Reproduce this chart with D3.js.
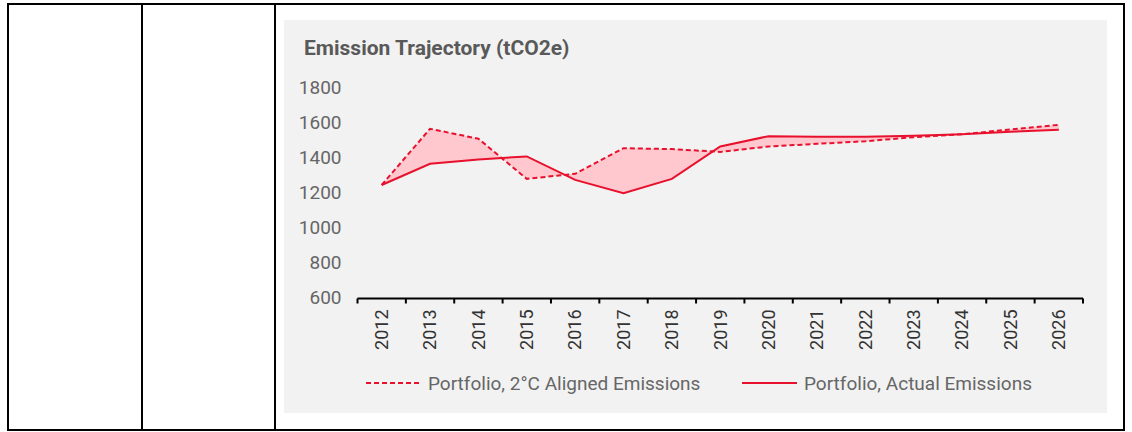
<!DOCTYPE html>
<html>
<head>
<meta charset="utf-8">
<script src="https://cdn.jsdelivr.net/npm/d3@7"></script>
<style>
  body { margin: 0; background: #fff; }
  svg { display: block; font-family: Roboto, "Noto Sans", sans-serif; }
</style>
</head>
<body>
<div id="chart"></div>
<script>
// chart data
var years = ['2012', '2013', '2014', '2015', '2016', '2017', '2018', '2019',
             '2020', '2021', '2022', '2023', '2024', '2025', '2026'];
var aligned = [1243, 1564, 1507, 1278, 1307, 1453, 1448, 1432,
               1463, 1478, 1493, 1516, 1533, 1560, 1587];
var actual = [1243, 1364, 1389, 1406, 1272, 1196, 1278, 1463,
              1522, 1518, 1518, 1524, 1533, 1547, 1558];
var yTicks = [600, 800, 1000, 1200, 1400, 1600, 1800];
var legendLabels = ['Portfolio, 2°C Aligned Emissions', 'Portfolio, Actual Emissions'];

var width = 1132, height = 432;
var red = '#e8112d';

var svg = d3.select('#chart')
      .append('svg')
      .attr('width', width)
      .attr('height', height);

// table cell borders around the chart
var border = svg.append('g')
      .attr('stroke', '#000')
      .attr('stroke-width', 2)
      .attr('fill', 'none');
border.append('rect').attr('x', 8).attr('y', 4).attr('width', 1116).attr('height', 426);
border.append('line').attr('x1', 142).attr('x2', 142).attr('y1', 4).attr('y2', 430);
border.append('line').attr('x1', 275).attr('x2', 275).attr('y1', 4).attr('y2', 430);

// grey chart panel
svg.append('rect')
  .attr('x', 284).attr('y', 20)
  .attr('width', 823).attr('height', 393)
  .attr('fill', '#f2f2f2');

svg.append('text')
  .attr('x', 304)
  .attr('y', 55)
  .attr('fill', '#595959')
  .attr('font-size', 21)
  .attr('font-weight', 'bold')
  .text('Emission Trajectory (tCO2e)');

var xScale = d3.scaleBand()
      .domain(years)
      .range([357.5, 1083]);

var yScale = d3.scaleLinear()
      .domain([600, 1800])
      .range([297.5, 87.5]);

function cx(d, i) { return xScale(years[i]) + xScale.bandwidth() / 2; }

// shaded gap between the two series
var area = d3.area()
      .x(function(d, i) { return cx(d, i); })
      .y0(function(d, i) { return yScale(actual[i]); })
      .y1(function(d) { return yScale(d); });

svg.append('path')
  .datum(aligned)
  .attr('d', area)
  .attr('fill', '#ffc7ce');

var line = d3.line()
      .x(function(d, i) { return cx(d, i); })
      .y(function(d) { return yScale(d); });

svg.append('path')
  .datum(aligned)
  .attr('d', line)
  .attr('fill', 'none')
  .attr('stroke', red)
  .attr('stroke-width', 2)
  .attr('stroke-dasharray', '5,3');

svg.append('path')
  .datum(actual)
  .attr('d', line)
  .attr('fill', 'none')
  .attr('stroke', red)
  .attr('stroke-width', 2);

// y axis: labels only
var yAxis = d3.axisLeft(yScale)
      .tickValues(yTicks)
      .tickFormat(d3.format('d'))
      .tickSize(0)
      .tickPadding(0);

var gy = svg.append('g')
      .attr('transform', 'translate(341.5,0)')
      .call(yAxis);
gy.select('.domain').remove();
gy.selectAll('text')
  .attr('fill', '#666')
  .attr('font-size', 19)
  .attr('font-family', 'Roboto');

// x axis: line and ticks between categories, rotated labels
var xAxis = d3.axisBottom(xScale)
      .tickSize(0)
      .tickPadding(0);

var gx = svg.append('g')
      .attr('transform', 'translate(0,298.5)')
      .call(xAxis);
gx.select('.domain').remove();
gx.selectAll('text')
  .attr('transform', 'rotate(-90)')
  .attr('text-anchor', 'end')
  .attr('x', -11)
  .attr('y', 0)
  .attr('dy', '0.35em')
  .attr('fill', '#333')
  .attr('font-size', 18)
  .attr('font-family', 'Roboto');

gx.append('line')
  .attr('x1', xScale.range()[0])
  .attr('x2', xScale.range()[1])
  .attr('stroke', '#000')
  .attr('stroke-width', 2);

gx.selectAll('.edge')
  .data(years.concat(['end']))
  .enter()
  .append('line')
  .attr('class', 'edge')
  .attr('x1', function(d) { return d === 'end' ? xScale.range()[1] : xScale(d); })
  .attr('x2', function(d) { return d === 'end' ? xScale.range()[1] : xScale(d); })
  .attr('y1', 0)
  .attr('y2', 5)
  .attr('stroke', '#000')
  .attr('stroke-width', 2);

// legend
var legendX = [366, 742];
var legend = svg.selectAll('.legend')
      .data(legendLabels)
      .enter()
      .append('g')
      .attr('class', 'legend')
      .attr('transform', function(d, i) { return 'translate(' + legendX[i] + ',383)'; });

legend.append('line')
  .attr('x1', 0)
  .attr('x2', 55)
  .attr('stroke', red)
  .attr('stroke-width', 2)
  .attr('stroke-dasharray', function(d, i) { return i === 0 ? '5,3' : null; });

legend.append('text')
  .attr('x', 62)
  .attr('dy', '0.35em')
  .attr('fill', '#666')
  .attr('font-size', 19)
  .text(function(d) { return d; });
</script>
</body>
</html>
